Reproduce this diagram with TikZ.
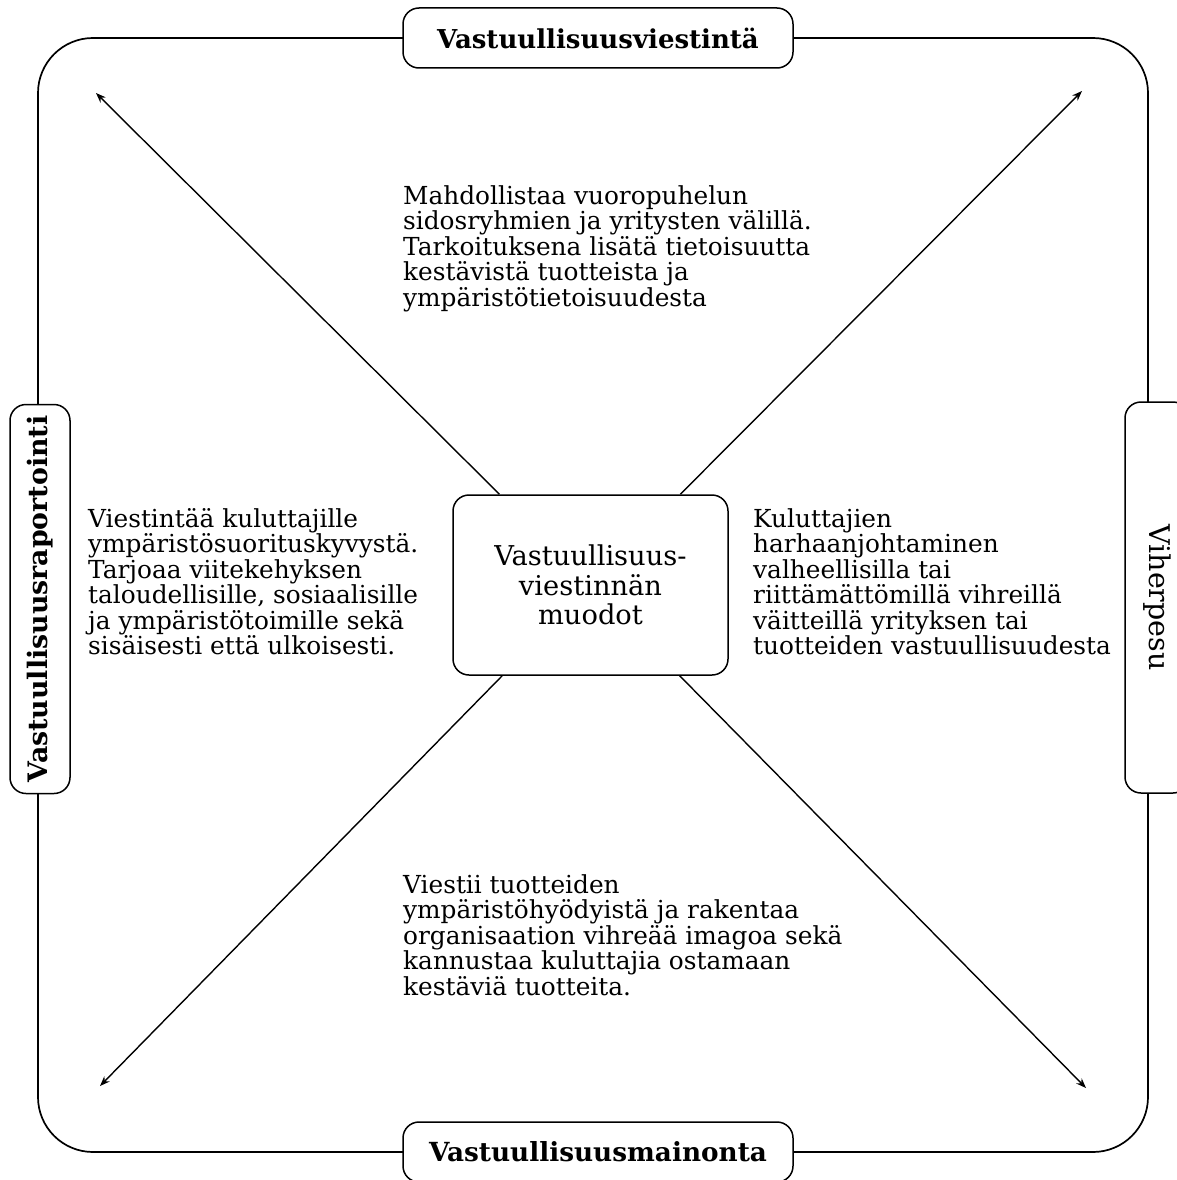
\documentclass[tikz,border=0pt]{standalone}
\usepackage{fontspec}
\setmainfont{DejaVu Serif}
\usetikzlibrary{arrows.meta}
\newcommand\leftlines[1]{\vtop{\lineskiplimit=-100pt\relax\halign{##\hfil\cr#1\crcr}}}
\newcommand\centerlines[1]{\vtop{\lineskiplimit=-100pt\relax\halign{\hfil##\hfil\cr#1\crcr}}}
\begin{document}
\begin{tikzpicture}[x=1pt,y=-1pt,
  frame/.style={line width=1.7pt, rounded corners=55pt},
  labelbox/.style={draw, line width=1.5pt, fill=white, rounded corners=16pt, inner sep=0pt,
    font=\fontsize{26}{30}\selectfont\bfseries},
  cbox/.style={draw, line width=1.5pt, fill=white, rounded corners=16pt, inner sep=0pt,
    font=\fontsize{27.3}{29.5}\selectfont},
  txt/.style={inner sep=0pt, anchor=base west, font=\fontsize{24.8}{25.5}\selectfont},
  arr/.style={line width=1.4pt, -{Stealth[length=10pt,width=7.5pt]}}
]
\useasboundingbox (0,0) rectangle (1177,1180);
\fill[white] (0,0) rectangle (1177,1180);
% outer frame
\draw[frame] (38,38) rectangle (1148,1152);
% arrow end points
\coordinate (tl) at (96,93);
\coordinate (tr) at (1082,91);
\coordinate (br) at (1086,1088);
\coordinate (bl) at (100,1086);
% centre box
\node[cbox, minimum width=275pt, minimum height=180pt] (cb) at (590.5,585)
  {\centerlines{Vastuullisuus-\cr viestinnän\cr muodot}};
\draw[arr] (cb) -- (tl);
\draw[arr] (cb) -- (tr);
\draw[arr] (cb) -- (br);
\draw[arr] (cb) -- (bl);
% side labels
\node[labelbox, minimum width=390pt, minimum height=60pt] (top) at (598,38) {Vastuullisuusviestintä};
\node[labelbox, minimum width=390pt, minimum height=60pt, font=\fontsize{26.3}{30}\selectfont\bfseries] (bottom) at (598,1152) {Vastuullisuusmainonta};
\node[labelbox, rotate=90, minimum width=389pt, minimum height=60pt, font=\fontsize{26.8}{30}\selectfont\bfseries] (left) at (40,599) {Vastuullisuusraportointi};
\node[labelbox, rotate=-90, minimum width=391pt, minimum height=64pt,
  font=\fontsize{28.5}{30}\selectfont] (right) at (1157,597.5) {Viherpesu};
% descriptions
\node[txt] (ttop) at (403,204) {\leftlines{Mahdollistaa vuoropuhelun\cr sidosryhmien ja yritysten välillä.\cr Tarkoituksena lisätä tietoisuutta\cr kestävistä tuotteista ja\cr ympäristötietoisuudesta}};
\node[txt] (tleft) at (88,527) {\leftlines{Viestintää kuluttajille\cr ympäristösuorituskyvystä.\cr Tarjoaa viitekehyksen\cr taloudellisille, sosiaalisille\cr ja ympäristötoimille sekä\cr sisäisesti että ulkoisesti.}};
\node[txt] (tright) at (753,527) {\leftlines{Kuluttajien\cr harhaanjohtaminen\cr valheellisilla tai\cr riittämättömillä vihreillä\cr väitteillä yrityksen tai\cr tuotteiden vastuullisuudesta}};
\node[txt] (tbottom) at (403,893) {\leftlines{Viestii tuotteiden\cr ympäristöhyödyistä ja rakentaa\cr organisaation vihreää imagoa sekä\cr kannustaa kuluttajia ostamaan\cr kestäviä tuotteita.}};
\end{tikzpicture}
\end{document}
